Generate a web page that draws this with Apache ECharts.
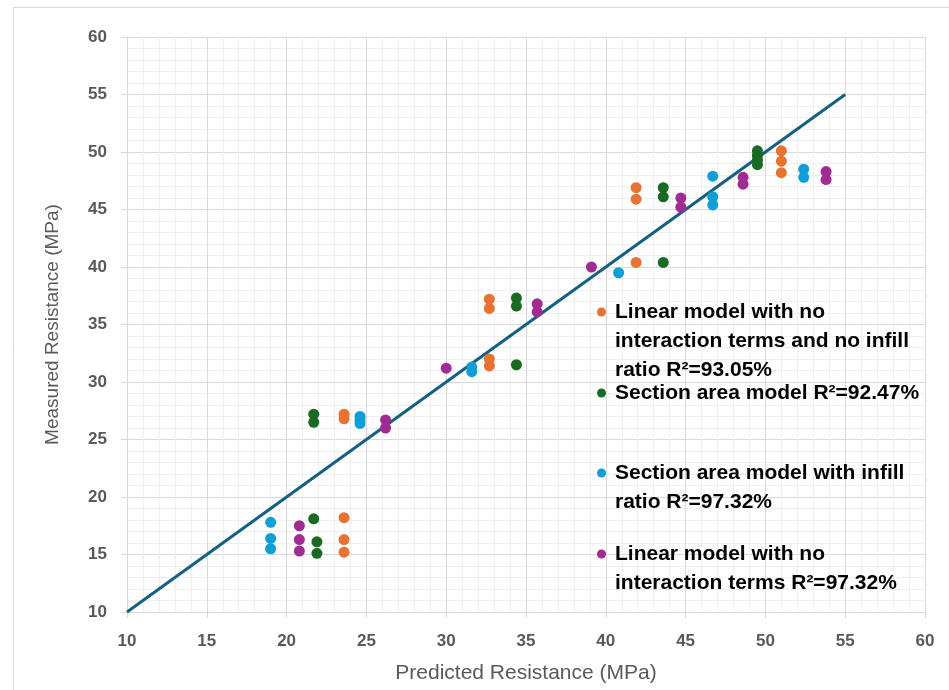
<!DOCTYPE html>
<html>
<head>
<meta charset="utf-8">
<script src="https://cdn.jsdelivr.net/npm/echarts@6/dist/echarts.min.js"></script>
<style>html,body{margin:0;padding:0;background:#fff;}#c{width:949px;height:690px;}</style>
</head>
<body>
<div id="c"></div>
<script>
// Series names
const seriesNames = [
  'Linear model with no interaction terms and no infill ratio R²=93.05%',
  'Section area model R²=92.47%',
  'Section area model with infill ratio R²=97.32%',
  'Linear model with no interaction terms R²=97.32%'
];
const legendLines = [
  ['Linear model with no', 'interaction terms and no infill', 'ratio R²=93.05%'],
  ['Section area model R²=92.47%'],
  ['Section area model with infill', 'ratio R²=97.32%'],
  ['Linear model with no', 'interaction terms R²=97.32%']
];
// Orange: linear model, no interaction terms, no infill ratio
const linNoInfillPred = [23.6, 23.6, 23.6, 23.6, 23.6, 32.7, 32.7, 32.7, 32.7, 41.9, 41.9, 41.9, 51.0, 51.0, 51.0];
const linNoInfillMeas = [18.2, 16.3, 15.2, 27.2, 26.8, 37.2, 36.4, 32.0, 31.4, 46.9, 45.9, 40.4, 50.1, 49.2, 48.2];
// Green: section area model
const sectPred = [21.7, 21.9, 21.9, 21.7, 21.7, 34.4, 34.4, 34.4, 43.6, 43.6, 43.6, 49.5, 49.5, 49.5, 49.5];
const sectMeas = [18.1, 16.1, 15.1, 27.2, 26.5, 37.3, 36.6, 31.5, 46.9, 46.1, 40.4, 50.1, 49.7, 49.3, 48.9];
// Blue: section area model with infill ratio
const sectInfillPred = [19.0, 19.0, 19.0, 24.6, 24.6, 24.6, 31.6, 31.6, 40.8, 46.7, 46.7, 46.7, 52.4, 52.4];
const sectInfillMeas = [17.8, 16.4, 15.5, 27.0, 26.7, 26.4, 31.3, 30.9, 39.5, 47.9, 46.1, 45.4, 48.5, 47.8];
// Purple: linear model, no interaction terms
const linPred = [20.8, 20.8, 20.8, 26.2, 26.2, 30.0, 35.7, 35.7, 39.1, 44.7, 44.7, 48.6, 48.6, 53.8, 53.8];
const linMeas = [17.5, 16.3, 15.3, 26.7, 26.0, 31.2, 36.8, 36.1, 40.0, 46.0, 45.2, 47.8, 47.2, 48.3, 47.6];
// Reference line y = x
const refLine = [10, 55];

const colors = ['#E97132', '#196B24', '#0F9ED5', '#A02B93'];
const predArrays = [linNoInfillPred, sectPred, sectInfillPred, linPred];
const measArrays = [linNoInfillMeas, sectMeas, sectInfillMeas, linMeas];

const chart = echarts.init(document.getElementById('c'), null, {renderer: 'canvas'});

const LH = 29;
const legendFirstLineY = [312, 393, 473, 554];
const legends = seriesNames.map((nm, i) => {
  const n = legendLines[i].length;
  const boxH = (2 * n - 1) * LH;
  // prepend (n-1) empty lines so the first real line sits level with the icon
  const pre = new Array(n - 1).fill(' ');
  return {
    data: [nm],
    orient: 'vertical',
    left: 597,
    top: legendFirstLineY[i] - boxH / 2,
    padding: 0,
    icon: 'circle',
    itemWidth: 9,
    itemHeight: 9,
    selectedMode: false,
    formatter: () => pre.concat(legendLines[i]).join('\n'),
    textStyle: {
      fontFamily: 'Liberation Sans, Arial, sans-serif',
      fontWeight: 'bold',
      fontSize: 21,
      color: '#000',
      lineHeight: LH,
      padding: [0, 0, 0, 4]
    }
  };
});

const scatterSeries = seriesNames.map((nm, i) => ({
  name: nm,
  type: 'scatter',
  symbol: 'circle',
  symbolSize: 11,
  itemStyle: {color: colors[i], opacity: 1},
  data: predArrays[i].map((x, k) => [x, measArrays[i][k]]),
  z: 3
}));

const tickLabel = {
  fontFamily: 'Liberation Sans, Arial, sans-serif',
  fontWeight: 'bold',
  fontSize: 17,
  color: '#595959'
};

chart.setOption({
  animation: false,
  backgroundColor: '#fff',
  graphic: [{
    type: 'rect',
    shape: {x: 13.5, y: 7.5, width: 1000, height: 800},
    style: {fill: null, stroke: '#d9d9d9', lineWidth: 1},
    silent: true,
    z: -10
  }],
  grid: {left: 127, top: 37, right: 24, bottom: 78, containLabel: false},
  legend: legends,
  xAxis: {
    type: 'value', min: 10, max: 60, interval: 5,
    name: 'Predicted Resistance (MPa)',
    nameLocation: 'middle', nameGap: 51,
    nameTextStyle: {fontFamily: 'Liberation Sans, Arial, sans-serif', fontSize: 21, color: '#595959'},
    axisLine: {show: true, onZero: false, lineStyle: {color: '#d9d9d9', width: 1}},
    axisTick: {show: true, length: 6, lineStyle: {color: '#d9d9d9'}},
    axisLabel: Object.assign({margin: 21}, tickLabel),
    splitLine: {show: true, lineStyle: {color: '#d9d9d9', width: 1}},
    minorTick: {show: false, splitNumber: 5},
    minorSplitLine: {show: true, lineStyle: {color: '#efefef', width: 1}}
  },
  yAxis: {
    type: 'value', min: 10, max: 60, interval: 5,
    name: 'Measured Resistance (MPa)',
    nameLocation: 'middle', nameGap: 65, nameRotate: 90,
    nameTextStyle: {fontFamily: 'Liberation Sans, Arial, sans-serif', fontSize: 19, color: '#595959'},
    axisLine: {show: true, onZero: false, lineStyle: {color: '#d9d9d9', width: 1}},
    axisTick: {show: true, length: 6, lineStyle: {color: '#d9d9d9'}},
    axisLabel: Object.assign({margin: 20}, tickLabel),
    splitLine: {show: true, lineStyle: {color: '#d9d9d9', width: 1}},
    minorTick: {show: false, splitNumber: 5},
    minorSplitLine: {show: true, lineStyle: {color: '#efefef', width: 1}}
  },
  series: [{
    name: 'ref',
    type: 'line',
    data: refLine.map(v => [v, v]),
    symbol: 'none',
    lineStyle: {color: '#156082', width: 3},
    z: 2,
    silent: true
  }].concat(scatterSeries)
});
</script>
</body>
</html>
